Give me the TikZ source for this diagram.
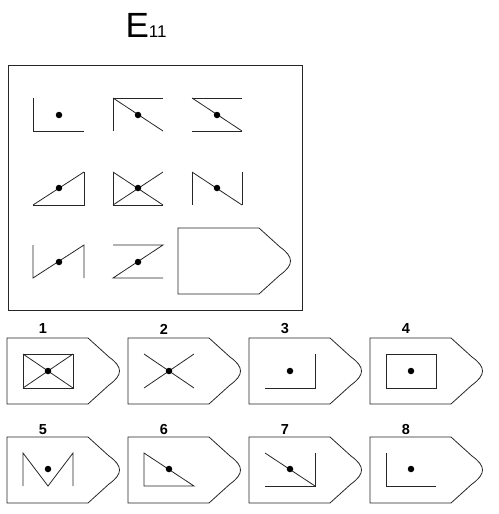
\documentclass[tikz,border=0pt]{standalone}
\usepackage{fontspec}
\setmainfont{Liberation Sans}
\usepackage{tikz}

\begin{document}
\begin{tikzpicture}[x=1pt,y=-1pt,
    fig/.style={draw=black!85,line width=0.8pt},
    dot/.style={fill=black,shape=circle,inner sep=0pt,minimum size=6.5pt},
    num/.style={font=\bfseries\fontsize{14.5}{14.5}\selectfont}]
    \useasboundingbox (0,0) rectangle (498,514);

    % title
    \node (title) at (146,25) {\fontsize{35}{35}\selectfont E\fontsize{17}{17}\selectfont 11};

    % matrix frame
    \draw[fig] (8,65) rectangle (302,310);

    % row 1
    \draw[fig] (33,98) -- (33,131) -- (84,131);
    \node[dot] (c11) at (59,115) {};
    \draw[fig] (163,98) -- (113,98) -- (113,131);
    \draw[fig] (113,98) -- (163,131);
    \node[dot] (c12) at (138,115) {};
    \draw[fig] (192,98) -- (242,98);
    \draw[fig] (192,131) -- (242,131);
    \draw[fig] (192,98) -- (242,131);
    \node[dot] (c13) at (217,115) {};

    % row 2
    \draw[fig] (33,205) -- (84,205) -- (84,172);
    \draw[fig] (33,205) -- (84,172);
    \node[dot] (c21) at (59,188) {};
    \draw[fig] (113,172) -- (113,205) -- (163,205);
    \draw[fig] (113,172) -- (163,205);
    \draw[fig] (113,205) -- (163,172);
    \node[dot] (c22) at (138,188) {};
    \draw[fig] (192,172) -- (192,205);
    \draw[fig] (242,172) -- (242,205);
    \draw[fig] (192,172) -- (242,205);
    \node[dot] (c23) at (217,188) {};

    % row 3
    \draw[fig] (33,245) -- (33,278) -- (84,245) -- (84,278);
    \node[dot] (c31) at (59,262) {};
    \draw[fig] (113,245) -- (163,245) -- (113,278) -- (163,278);
    \node[dot] (c32) at (138,262) {};

    % answer plates
    \foreach \x/\y in {178/228, 7/338, 128/338, 249/338, 370/338, 7/437, 128/437, 249/437, 370/437}
        \draw[fig] (\x,\y) -- (\x+81,\y) -- (\x+102,\y+19)
            .. controls (\x+116,\y+29) and (\x+116,\y+37) .. (\x+102,\y+47)
            -- (\x+81,\y+66) -- (\x,\y+66) -- cycle;

    \node[num] (n1) at (43,329) {1};
    \node[num] (n2) at (164,329) {2};
    \node[num] (n3) at (285,329) {3};
    \node[num] (n4) at (406,329) {4};
    \node[num] (n5) at (43,430) {5};
    \node[num] (n6) at (164,430) {6};
    \node[num] (n7) at (285,430) {7};
    \node[num] (n8) at (406,430) {8};

    % options 1-4
    \draw[fig] (23,354) rectangle (73,388);
    \draw[fig] (23,354) -- (73,388);
    \draw[fig] (23,388) -- (73,354);
    \node[dot] (a1) at (48,371) {};
    \draw[fig] (144,354) -- (194,388);
    \draw[fig] (144,388) -- (194,354);
    \node[dot] (a2) at (169,371) {};
    \draw[fig] (265,388) -- (315,388) -- (315,354);
    \node[dot] (a3) at (290,371) {};
    \draw[fig] (386,354) rectangle (436,388);
    \node[dot] (a4) at (411,371) {};

    % options 5-8
    \draw[fig] (23,486) -- (23,453) -- (48,486) -- (73,453) -- (73,486);
    \node[dot] (a5) at (48,469) {};
    \draw[fig] (144,453) -- (144,486) -- (194,486) -- cycle;
    \node[dot] (a6) at (169,469) {};
    \draw[fig] (265,453) -- (315,486);
    \draw[fig] (265,486) -- (315,486) -- (315,453);
    \node[dot] (a7) at (290,469) {};
    \draw[fig] (386,453) -- (386,486) -- (436,486);
    \node[dot] (a8) at (411,469) {};
\end{tikzpicture}
\end{document}
